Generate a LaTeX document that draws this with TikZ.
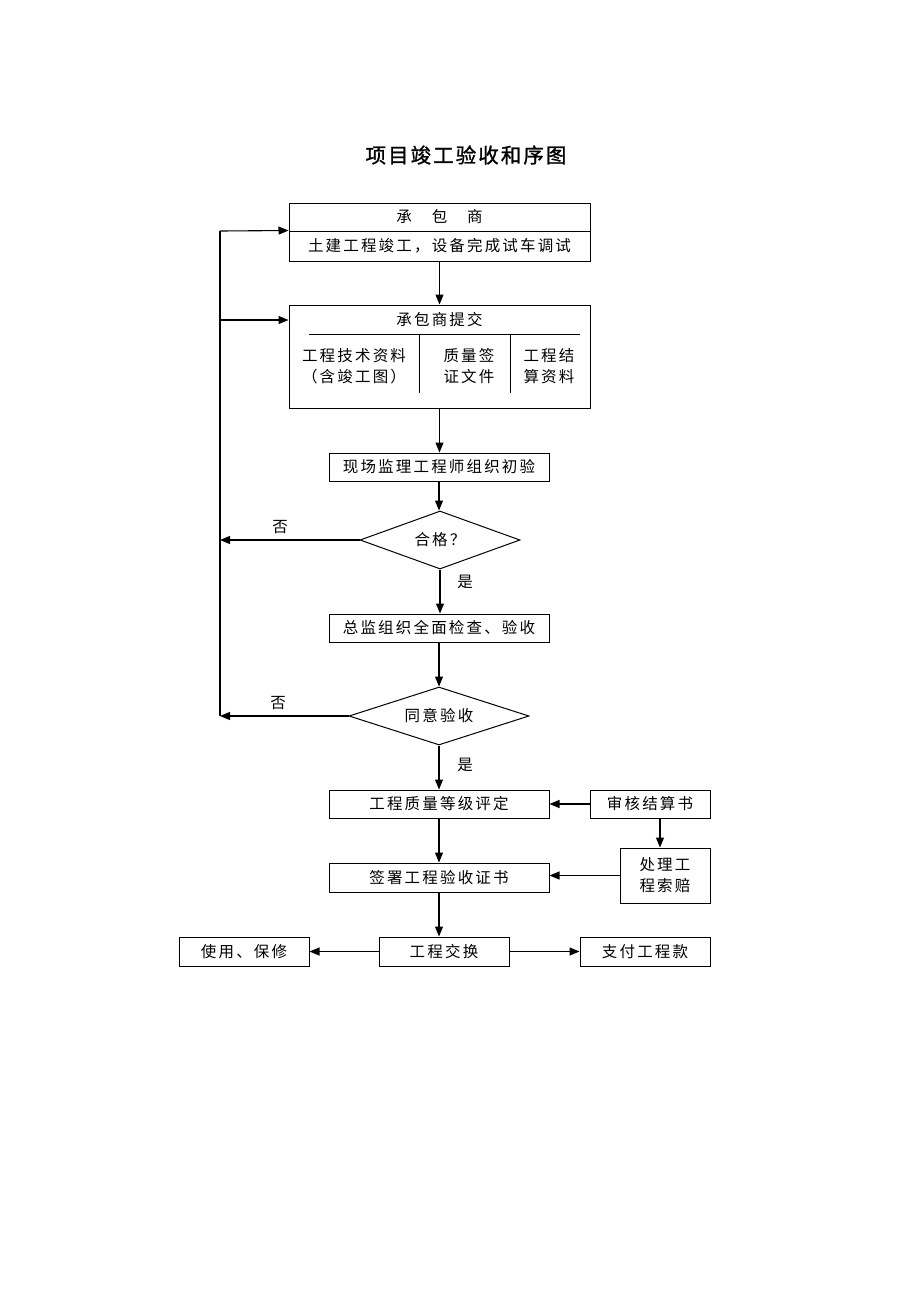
\documentclass[tikz,border=0pt]{standalone}
\usepackage{fontspec}
\usetikzlibrary{arrows.meta,shapes.geometric}
\newfontfamily\cjk{Noto Sans CJK SC}[LetterSpace=14]
\newfontfamily\cjktitle{Noto Sans CJK SC}[LetterSpace=10,FakeBold=1.2]
\tikzset{
  boxsty/.style={draw, line width=1pt, rectangle, inner sep=0pt, align=center,
    font=\cjk\fontsize{15.5}{21}\selectfont},
  txt/.style={inner sep=0pt, align=center, font=\cjk\fontsize{15.5}{21}\selectfont},
  decsty/.style={draw, line width=1pt, diamond, inner sep=0pt, aspect=2.8,
    font=\cjk\fontsize{15.5}{21}\selectfont},
  arr/.style={-{Triangle[length=10pt,width=8pt]}, line width=1.1pt},
  ln/.style={line width=1.1pt}
}
\begin{document}
\begin{tikzpicture}[x=1pt,y=-1pt]
\useasboundingbox[fill=white] (0,0) rectangle (920,1302);
\node[font=\cjktitle\fontsize{20.5}{24}\selectfont] (title) at (466,155) {项目竣工验收和序图};

\node[boxsty, minimum width=301pt, minimum height=28pt] (b1a) at (439.5,217) {承　包　商};
\node[boxsty, minimum width=301pt, minimum height=30pt] (b1b) at (439.5,246) {土建工程竣工，设备完成试车调试};

\node[boxsty, minimum width=301pt, minimum height=103pt] (b2) at (439.5,356.5) {};
\node[txt] (t2) at (439.5,320) {承包商提交};
\coordinate (h1) at (309,334);
\coordinate (h2) at (580,334);
\draw[line width=1pt] (h1) -- (h2);
\coordinate (v1) at (419,334);
\coordinate (v2) at (510,334);
\draw[line width=1pt] (v1) -- ++(0,59);
\draw[line width=1pt] (v2) -- ++(0,59);
\node[txt] (c2a) at (354,366) {工程技术资料\\（含竣工图）};
\node[txt] (c2b) at (469,366) {质量签\\证文件};
\node[txt] (c2c) at (549,366) {工程结\\算资料};

\node[boxsty, minimum width=220pt, minimum height=28pt] (b3) at (439,467) {现场监理工程师组织初验};
\node[decsty, minimum width=160pt, minimum height=58pt] (d1) at (440,540) {合格？};
\node[boxsty, minimum width=220pt, minimum height=28pt] (b4) at (439,628) {总监组织全面检查、验收};
\node[decsty, minimum width=180pt, minimum height=58pt] (d2) at (439,716) {同意验收};
\node[boxsty, minimum width=220pt, minimum height=28pt] (b5) at (439,804) {工程质量等级评定};
\node[boxsty, minimum width=120pt, minimum height=28pt] (b6) at (650,804) {审核结算书};
\node[boxsty, minimum width=90pt, minimum height=55pt] (b7) at (665,875.5) {处理工\\程索赔};
\node[boxsty, minimum width=220pt, minimum height=29pt] (b8) at (439,877.5) {签署工程验收证书};
\node[boxsty, minimum width=130pt, minimum height=29pt] (b9) at (444,951.5) {工程交换};
\node[boxsty, minimum width=130pt, minimum height=29pt] (b10) at (244,951.5) {使用、保修};
\node[boxsty, minimum width=130pt, minimum height=29pt] (b11) at (645,951.5) {支付工程款};

\node[txt] (no1) at (280,527) {否};
\node[txt] (no2) at (278,703) {否};
\node[txt] (yes1) at (465,582) {是};
\node[txt] (yes2) at (465,765) {是};

\coordinate (L1) at (220,231);
\coordinate (L2) at (220,320);
\coordinate (L3) at (220,540);
\coordinate (L4) at (220,716);
\draw[ln] (L1) -- (L4);
\draw[arr] (L1) -- (b1b.north west);
\draw[arr] (L2) -- (b2.west |- L2);
\draw[arr] (d1.west) -- (L3);
\draw[arr] (d2.west) -- (L4);

\draw[arr] (b1b.south) -- (b1b.south |- b2.north);
\draw[arr] (b2.south) -- (b2.south |- b3.north);
\draw[arr] (b3.south) -- (b3.south |- d1.north);
\draw[arr] (d1.south) -- (d1.south |- b4.north);
\draw[arr] (b4.south) -- (b4.south |- d2.north);
\draw[arr] (d2.south) -- (d2.south |- b5.north);
\draw[arr] (b5.south) -- (b5.south |- b8.north);
\draw[arr] (b8.south) -- (b8.south |- b9.north);
\draw[arr] (b6.west) -- (b5.east);
\draw[arr] ([xshift=10pt]b6.south) -- ([xshift=10pt]b6.south |- b7.north);
\draw[arr] (b7.west) -- (b7.west -| b8.east);
\draw[arr] (b9.west) -- (b10.east);
\draw[arr] (b9.east) -- (b11.west);
\end{tikzpicture}
\end{document}
